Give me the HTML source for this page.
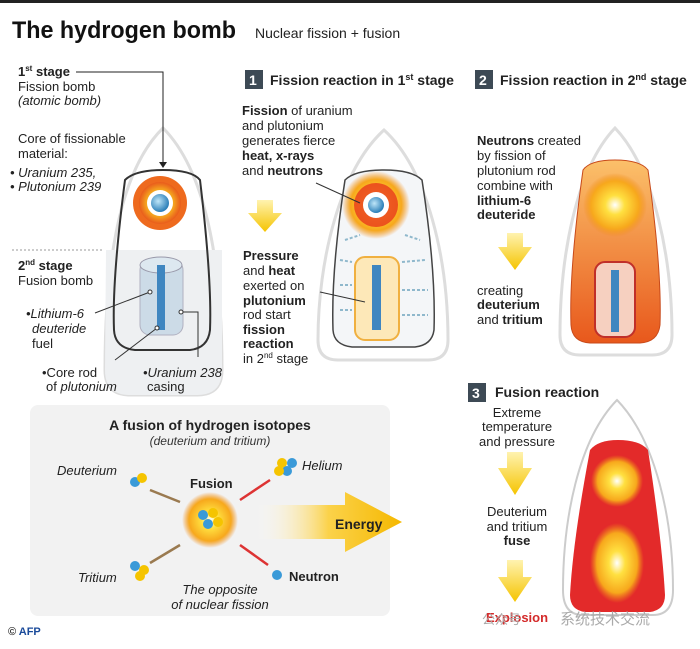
<!DOCTYPE html>
<html><head><meta charset="utf-8"><style>
body{margin:0;background:#fff}
svg{display:block;font-family:"Liberation Sans","Noto Sans CJK SC",sans-serif}
</style></head><body>
<svg width="700" height="649" viewBox="0 0 700 649">
<defs>
<radialGradient id="fire" cx="50%" cy="50%" r="50%"><stop offset="0" stop-color="#fff"/><stop offset="0.35" stop-color="#ffd21a"/><stop offset="0.7" stop-color="#f39a1e"/><stop offset="1" stop-color="#e85a1c" stop-opacity="0.9"/></radialGradient>
<radialGradient id="glow" cx="50%" cy="50%" r="50%"><stop offset="0" stop-color="#fff"/><stop offset="0.3" stop-color="#ffe040"/><stop offset="0.75" stop-color="#f7a81c"/><stop offset="1" stop-color="#f08a1a" stop-opacity="0"/></radialGradient>
<radialGradient id="core" cx="40%" cy="40%" r="60%"><stop offset="0" stop-color="#bfe6f8"/><stop offset="1" stop-color="#2b7fb8"/></radialGradient>
<linearGradient id="orng" x1="0" y1="0" x2="0" y2="1"><stop offset="0" stop-color="#fbc06a"/><stop offset="1" stop-color="#e8581c"/></linearGradient>
<linearGradient id="ya" x1="0" y1="0" x2="0" y2="1"><stop offset="0" stop-color="#fff3b0"/><stop offset="1" stop-color="#f5c400"/></linearGradient>
<linearGradient id="ea" x1="0" y1="0" x2="1" y2="0"><stop offset="0" stop-color="#fff" stop-opacity="0"/><stop offset="0.5" stop-color="#fbd24a"/><stop offset="1" stop-color="#f5b800"/></linearGradient>
</defs>
<rect x="0" y="0" width="700" height="3" fill="#222"/>
<text x="12" y="38" font-size="24" font-weight="bold" fill="#111" textLength="224" lengthAdjust="spacingAndGlyphs">The hydrogen bomb</text>
<text x="255" y="38" font-size="14" fill="#222">Nuclear fission + fusion</text>

<!-- left bomb -->
<path d="M163 128 C120 170 105 260 105 370 Q105 395 130 395 L197 395 Q222 395 222 370 C222 260 205 170 163 128Z" fill="#fff" stroke="#ddd" stroke-width="3"/>
<path d="M106 250 L222 250 L222 370 Q222 395 197 395 L130 395 Q105 395 105 370Z" fill="#eef0f2"/>
<path d="M125 180 Q135 170 163 170 Q192 170 200 180 Q212 280 210 330 Q208 348 190 350 L135 350 Q115 348 114 330 Q112 280 125 180Z" fill="none" stroke="#333" stroke-width="2"/>
<circle cx="160" cy="203" r="27" fill="#ee6a1e"/><circle cx="160" cy="203" r="21" fill="url(#fire)"/><circle cx="160" cy="203" r="13" fill="#fff"/><circle cx="160" cy="203" r="9" fill="url(#core)"/>
<rect x="140" y="260" width="43" height="75" rx="10" fill="#c9d9e6" stroke="#aab" opacity="0.9"/>
<ellipse cx="161" cy="265" rx="21" ry="8" fill="#dde8f0" stroke="#99a"/>
<rect x="157" y="265" width="8" height="65" fill="#3f86c0"/>
<line x1="12" y1="250" x2="102" y2="250" stroke="#999" stroke-dasharray="2,2"/>
<polyline points="76,72 163,72 163,165" fill="none" stroke="#222"/><path d="M159 162 L167 162 L163 168Z" fill="#222"/>
<line x1="95" y1="313" x2="150" y2="292" stroke="#333"/><circle cx="150" cy="292" r="2" fill="#fff" stroke="#333"/>
<line x1="115" y1="360" x2="157" y2="328" stroke="#333"/><circle cx="157" cy="328" r="2" fill="#fff" stroke="#333"/>
<polyline points="181,312 198,312 198,357" fill="none" stroke="#333"/><circle cx="181" cy="312" r="2" fill="#fff" stroke="#333"/>
<g font-size="13" fill="#222">
<text x="18" y="76" font-weight="bold">1<tspan font-size="8" dy="-5">st</tspan><tspan dy="5"> stage</tspan></text>
<text x="18" y="91">Fission bomb</text><text x="18" y="105" font-style="italic">(atomic bomb)</text>
<text x="18" y="143">Core of fissionable</text><text x="18" y="158">material:</text>
<text x="10" y="177" font-style="italic">• Uranium 235,</text><text x="10" y="191" font-style="italic">• Plutonium 239</text>
<text x="18" y="270" font-weight="bold">2<tspan font-size="8" dy="-5">nd</tspan><tspan dy="5"> stage</tspan></text>
<text x="18" y="285">Fusion bomb</text>
<text x="26" y="318" font-style="italic">•Lithium-6</text><text x="32" y="333" font-style="italic">deuteride</text><text x="32" y="348">fuel</text>
<text x="42" y="377">•Core rod</text><text x="46" y="391">of <tspan font-style="italic">plutonium</tspan></text>
<text x="143" y="377" font-style="italic">•Uranium 238</text><text x="147" y="391">casing</text>
</g>

<!-- stage 1 -->
<rect x="245" y="70" width="18" height="19" fill="#3d4a55"/><text x="249" y="85" font-size="14" font-weight="bold" fill="#fff">1</text>
<text x="270" y="85" font-size="14" font-weight="bold" fill="#222">Fission reaction in 1<tspan font-size="9" dy="-5">st</tspan><tspan dy="5"> stage</tspan></text>
<path d="M384 130 C340 170 318 260 318 340 Q318 360 338 360 L428 360 Q448 360 448 340 C448 260 428 170 384 130Z" fill="#fff" stroke="#ddd" stroke-width="3"/>
<path d="M345 180 Q355 170 384 170 Q412 170 422 180 Q436 270 434 330 Q432 345 415 347 L352 347 Q334 345 333 330 Q331 270 345 180Z" fill="#f4f6f8" stroke="#444" stroke-width="1.5"/>
<circle cx="376" cy="205" r="34" fill="url(#glow)"/><circle cx="376" cy="205" r="22" fill="#e83a1c" opacity="0.8"/><circle cx="376" cy="205" r="13" fill="#fff"/><circle cx="376" cy="205" r="8" fill="url(#core)"/>
<rect x="355" y="257" width="44" height="83" rx="10" fill="#fde8b8" stroke="#f0b040" stroke-width="2"/>
<rect x="372" y="265" width="9" height="65" fill="#3f86c0"/>
<g stroke="#8fb8cc" stroke-width="2" stroke-dasharray="3,2"><line x1="340" y1="260" x2="352" y2="262"/><line x1="340" y1="285" x2="352" y2="285"/><line x1="340" y1="310" x2="352" y2="310"/><line x1="402" y1="262" x2="425" y2="260"/><line x1="402" y1="290" x2="428" y2="290"/><line x1="402" y1="315" x2="428" y2="315"/><line x1="345" y1="240" x2="360" y2="235"/><line x1="405" y1="235" x2="420" y2="240"/></g>
<line x1="316" y1="183" x2="360" y2="203" stroke="#333"/>
<line x1="320" y1="292" x2="365" y2="302" stroke="#333"/>
<path d="M257 200 L273 200 L273 213 L282 213 L265 232 L248 213 L257 213Z" fill="url(#ya)"/>
<g font-size="13" fill="#222">
<text x="242" y="115"><tspan font-weight="bold">Fission</tspan> of uranium</text>
<text x="242" y="130">and plutonium</text><text x="242" y="145">generates fierce</text>
<text x="242" y="160" font-weight="bold">heat, x-rays</text><text x="242" y="175">and <tspan font-weight="bold">neutrons</tspan></text>
<text x="243" y="260" font-weight="bold">Pressure</text><text x="243" y="275">and <tspan font-weight="bold">heat</tspan></text>
<text x="243" y="290">exerted on</text><text x="243" y="305" font-weight="bold">plutonium</text>
<text x="243" y="319">rod start</text><text x="243" y="334" font-weight="bold">fission</text>
<text x="243" y="348" font-weight="bold">reaction</text><text x="243" y="363">in 2<tspan font-size="8" dy="-5">nd</tspan><tspan dy="5"> stage</tspan></text>
</g>

<!-- stage 2 -->
<rect x="475" y="70" width="18" height="19" fill="#3d4a55"/><text x="479" y="85" font-size="14" font-weight="bold" fill="#fff">2</text>
<text x="500" y="85" font-size="14" font-weight="bold" fill="#222">Fission reaction in 2<tspan font-size="9" dy="-5">nd</tspan><tspan dy="5"> stage</tspan></text>
<path d="M615 128 C575 170 560 260 560 335 Q560 355 580 355 L652 355 Q672 355 672 335 C672 260 655 170 615 128Z" fill="#fff" stroke="#ddd" stroke-width="3"/>
<path d="M583 170 Q590 160 615 160 Q640 160 648 170 Q662 270 660 325 Q658 342 640 343 L590 343 Q572 342 571 325 Q569 270 583 170Z" fill="url(#orng)" stroke="#c84a1a"/>
<circle cx="615" cy="205" r="32" fill="url(#glow)"/>
<rect x="595" y="262" width="40" height="75" rx="10" fill="#f6d0c0" stroke="#c0302a" stroke-width="2"/>
<rect x="611" y="270" width="8" height="62" fill="#3f86c0"/>
<path d="M507 233 L523 233 L523 247 L532 247 L515 270 L498 247 L507 247Z" fill="url(#ya)"/>
<g font-size="13" fill="#222">
<text x="477" y="145"><tspan font-weight="bold">Neutrons</tspan> created</text>
<text x="477" y="160">by fission of</text><text x="477" y="175">plutonium rod</text><text x="477" y="190">combine with</text>
<text x="477" y="205" font-weight="bold">lithium-6</text><text x="477" y="219" font-weight="bold">deuteride</text>
<text x="477" y="295">creating</text><text x="477" y="309" font-weight="bold">deuterium</text><text x="477" y="324">and <tspan font-weight="bold">tritium</tspan></text>
</g>

<!-- stage 3 -->
<rect x="468" y="383" width="18" height="19" fill="#3d4a55"/><text x="472" y="398" font-size="14" font-weight="bold" fill="#fff">3</text>
<text x="495" y="397" font-size="14" font-weight="bold" fill="#222">Fusion reaction</text>
<path d="M617 400 C578 440 563 520 563 590 Q563 615 583 615 L653 615 Q673 615 673 590 C673 520 656 440 617 400Z" fill="#fff" stroke="#ccc" stroke-width="2"/>
<path d="M590 450 Q598 440 618 440 Q640 440 648 450 Q662 540 665 595 Q665 610 650 612 L585 612 Q570 610 570 595 Q573 540 590 450Z" fill="#e32a2a"/>
<circle cx="617" cy="481" r="26" fill="url(#glow)"/>
<ellipse cx="617" cy="563" rx="27" ry="40" fill="url(#glow)"/>
<path d="M507 452 L523 452 L523 468 L532 468 L515 495 L498 468 L507 468Z" fill="url(#ya)"/>
<path d="M507 560 L523 560 L523 577 L532 577 L515 602 L498 577 L507 577Z" fill="url(#ya)"/>
<g font-size="13" fill="#222" text-anchor="middle">
<text x="517" y="417">Extreme</text><text x="517" y="431">temperature</text><text x="517" y="446">and pressure</text>
<text x="517" y="516">Deuterium</text><text x="517" y="531">and tritium</text><text x="517" y="545" font-weight="bold">fuse</text>
<text x="517" y="622" font-weight="bold" fill="#d42a2a">Explosion</text>
</g>
<text x="560" y="624" font-size="15" fill="#aaa">系统技术交流</text>
<text x="482" y="624" font-size="13" fill="#aaa">公众号</text>

<!-- fusion box -->
<rect x="30" y="405" width="360" height="211" rx="8" fill="#f2f2f2"/>
<text x="210" y="430" font-size="14" font-weight="bold" fill="#222" text-anchor="middle">A fusion of hydrogen isotopes</text>
<text x="210" y="445" font-size="12" font-style="italic" fill="#333" text-anchor="middle">(deuterium and tritium)</text>
<path d="M255 505 L345 505 L345 492 L402 522 L345 552 L345 539 L255 539Z" fill="url(#ea)"/>
<text x="335" y="529" font-size="14" font-weight="bold" fill="#222">Energy</text>
<circle cx="210" cy="520" r="28" fill="url(#glow)"/>
<g><circle cx="203" cy="515" r="5" fill="#3a9ad8"/><circle cx="213" cy="513" r="5" fill="#f5c400"/><circle cx="208" cy="524" r="5" fill="#3a9ad8"/><circle cx="218" cy="522" r="5" fill="#f5c400"/><circle cx="135" cy="482" r="5" fill="#3a9ad8"/><circle cx="142" cy="478" r="5" fill="#f5c400"/><circle cx="135" cy="566" r="5" fill="#3a9ad8"/><circle cx="144" cy="570" r="5" fill="#f5c400"/><circle cx="140" cy="576" r="5" fill="#f5c400"/><circle cx="282" cy="463" r="5" fill="#f5c400"/><circle cx="292" cy="463" r="5" fill="#3a9ad8"/><circle cx="287" cy="471" r="5" fill="#3a9ad8"/><circle cx="279" cy="471" r="5" fill="#f5c400"/><circle cx="277" cy="575" r="5" fill="#3a9ad8"/></g>
<g stroke-width="2.5"><line x1="150" y1="490" x2="180" y2="502" stroke="#9a7a50"/><line x1="150" y1="563" x2="180" y2="545" stroke="#9a7a50"/><line x1="240" y1="500" x2="270" y2="480" stroke="#d33"/><line x1="240" y1="545" x2="268" y2="565" stroke="#d33"/></g>
<g font-size="13" fill="#222">
<text x="57" y="475" font-style="italic">Deuterium</text>
<text x="190" y="488" font-weight="bold">Fusion</text>
<text x="302" y="470" font-style="italic">Helium</text>
<text x="78" y="582" font-style="italic">Tritium</text>
<text x="289" y="581" font-weight="bold">Neutron</text>
<text x="220" y="594" font-style="italic" text-anchor="middle">The opposite</text>
<text x="220" y="609" font-style="italic" text-anchor="middle">of nuclear fission</text>
</g>
<text x="8" y="635" font-size="11" font-weight="bold" fill="#333">© <tspan fill="#1a4a9a">AFP</tspan></text>
</svg>
</body></html>
